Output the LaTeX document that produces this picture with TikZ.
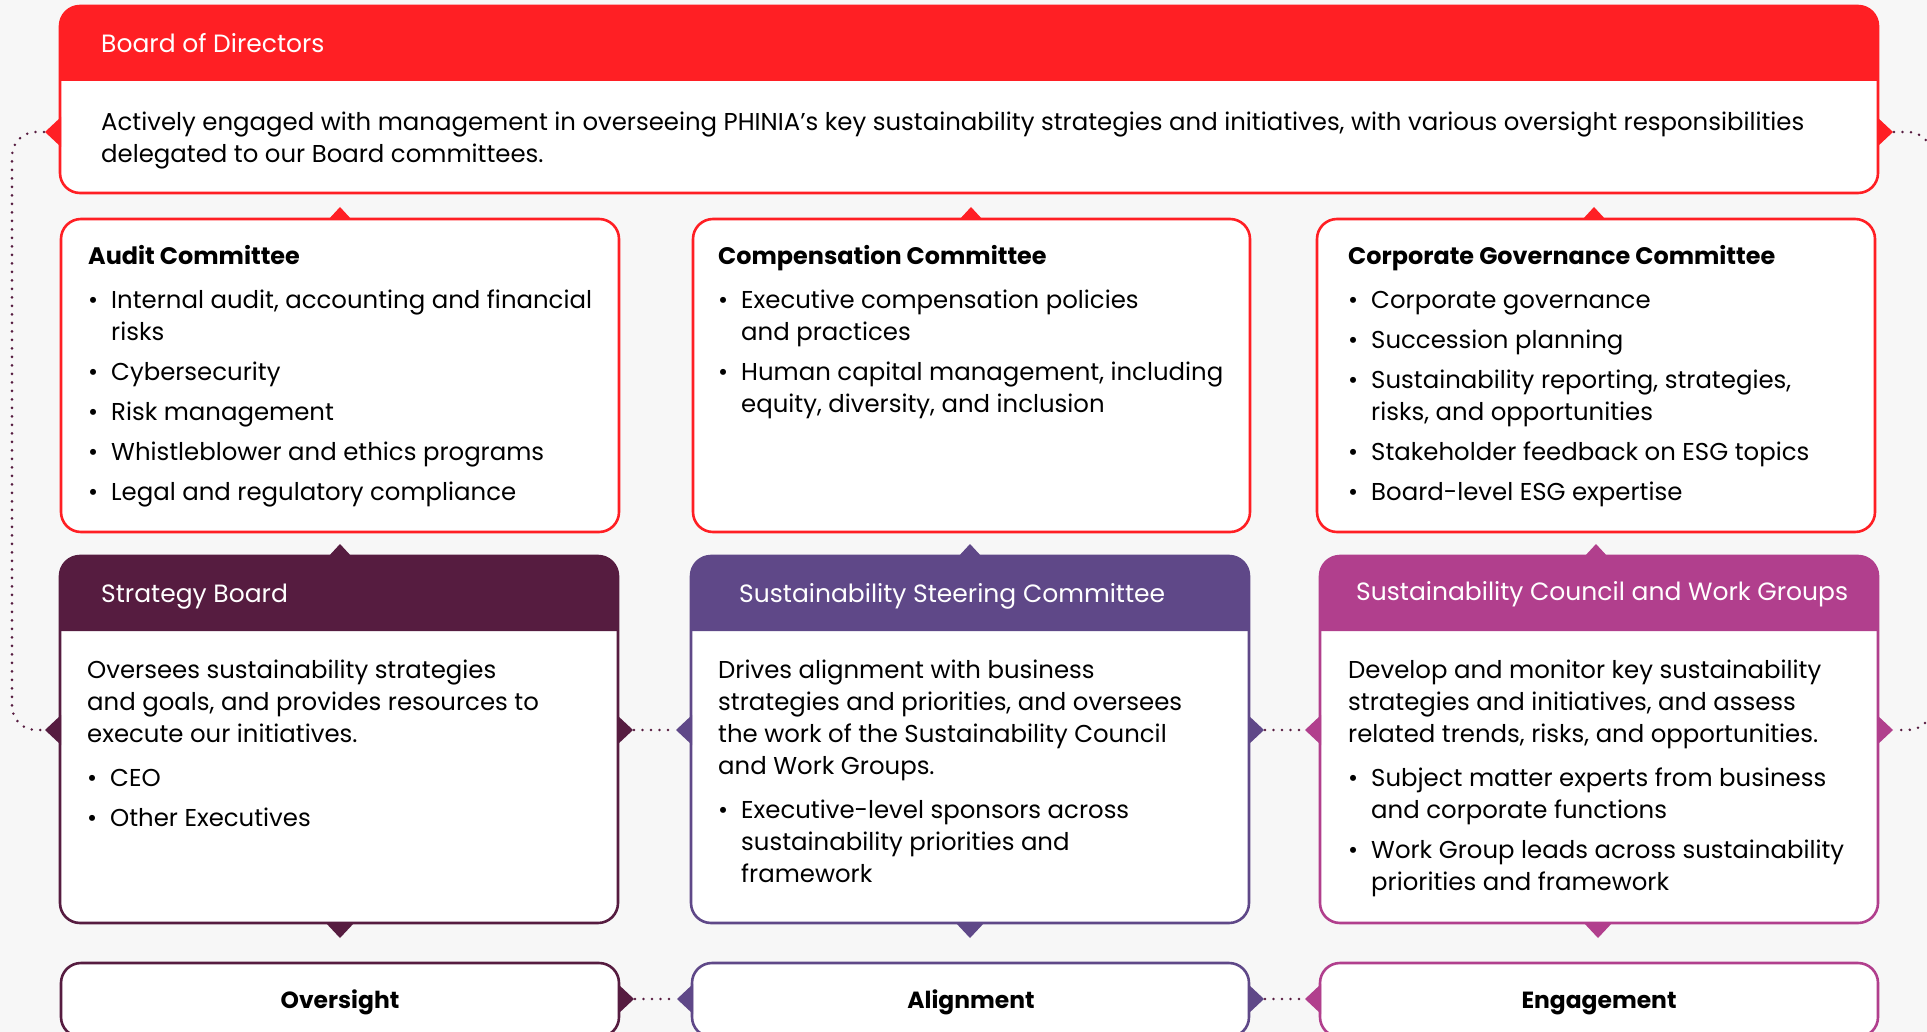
\documentclass[tikz,border=0pt]{standalone}
\usepackage{fontspec}
\setmainfont{Poppins}
\definecolor{paper}{HTML}{F7F7F7}
\definecolor{bdred}{HTML}{FF1F24}
\definecolor{plum}{HTML}{561C40}
\definecolor{violet}{HTML}{5F4888}
\definecolor{orchid}{HTML}{B13F8D}

\newcommand\bul{\makebox[23pt][l]{\textbullet}}
\newcommand\ind{\hspace*{23pt}}

% side / top / bottom pointers sitting on a box edge
\newcommand\ptrR[3]{\fill[#3] (#1-1,#2-15) -- (#1+15,#2) -- (#1-1,#2+15) -- cycle;}
\newcommand\ptrL[3]{\fill[#3] (#1+1,#2-15) -- (#1-15,#2) -- (#1+1,#2+15) -- cycle;}
\newcommand\ptrU[3]{\fill[#3] (#1-12,#2+1) -- (#1,#2-12) -- (#1+12,#2+1) -- cycle;}
\newcommand\ptrD[3]{\fill[#3] (#1-15,#2-1) -- (#1,#2+15) -- (#1+15,#2-1) -- cycle;}
% coloured header band with rounded top corners
\newcommand\band[5]{\fill[#5] (#1,#4) [rounded corners=20pt] -- (#1,#2) -- (#3,#2) [sharp corners] -- (#3,#4) -- cycle;}

\tikzset{
  x=1pt, y=-1pt,
  panel/.style={draw=#1, fill=white, line width=2.6pt, rounded corners=20pt,
    anchor=north west, inner sep=0pt, outer sep=0pt},
  body/.style={anchor=north west, inner sep=0pt, align=left,
    font=\fontsize{24.4}{32}\selectfont},
  title/.style={anchor=base west, inner sep=0pt, font=\bfseries\fontsize{23.9}{32}\selectfont},
  headtxt/.style={anchor=base west, inner sep=0pt, text=white, font=\fontsize{25}{32}\selectfont},
  foot/.style={anchor=base, inner sep=0pt, font=\bfseries\fontsize{23.4}{32}\selectfont},
  dotline/.style={draw=plum, line width=2.8pt, line cap=round, dash pattern=on 0pt off 8.5pt},
}

\begin{document}
\begin{tikzpicture}
\fill[paper] (0,0) rectangle (1927,1032);
\useasboundingbox (0,0) rectangle (1927,1032);
\clip (0,0) rectangle (1927,1032);

% ---------- Board of Directors ----------
\node[panel=bdred, minimum width=1818pt, minimum height=187pt] (board) at (60,6) {};
\band{60}{6}{1878}{81}{bdred}
\node[headtxt] (boardT) at (101,53) {Board of Directors};
\node[body] (boardB) at (101,107.6) {\strut Actively engaged with management in overseeing PHINIA’s key sustainability strategies and initiatives, with various oversight responsibilities\\delegated to our Board committees.};
\ptrL{60}{132}{bdred}
\ptrR{1878}{132}{bdred}
\coordinate (bdL) at (44,132);
\coordinate (bdR) at (1894,132);

% ---------- Committees ----------
\node[panel=bdred, minimum width=558pt, minimum height=313pt] (audit) at (61,219) {};
\node[panel=bdred, minimum width=557pt, minimum height=313pt] (comp) at (693,219) {};
\node[panel=bdred, minimum width=558pt, minimum height=313pt] (gov) at (1317,219) {};
\ptrU{340}{219}{bdred}
\ptrU{971}{219}{bdred}
\ptrU{1594}{219}{bdred}

\node[title] (auditT) at (88,265) {Audit Committee};
\node[body] (auditB) at (88,285.6) {\strut\bul Internal audit, accounting and financial\\\ind risks\\[8pt]\bul Cybersecurity\\[8pt]\bul Risk management\\[8pt]\bul Whistleblower and ethics programs\\[8pt]\bul Legal and regulatory compliance};

\node[title] (compT) at (718,265) {Compensation Committee};
\node[body] (compB) at (718,285.6) {\strut\bul Executive compensation policies\\\ind and practices\\[8pt]\bul Human capital management, including\\\ind equity, diversity, and inclusion};

\node[title] (govT) at (1348,265) {Corporate Governance Committee};
\node[body] (govB) at (1348,285.6) {\strut\bul Corporate governance\\[8pt]\bul Succession planning\\[8pt]\bul Sustainability reporting, strategies,\\\ind risks, and opportunities\\[8pt]\bul Stakeholder feedback on ESG topics\\[8pt]\bul Board-level ESG expertise};

% ---------- Management bodies ----------
\node[panel=plum, minimum width=558pt, minimum height=367pt] (strat) at (60,556) {};
\band{60}{556}{618}{631}{plum}
\node[panel=violet, minimum width=558pt, minimum height=367pt] (ssc) at (691,556) {};
\band{691}{556}{1249}{631}{violet}
\node[panel=orchid, minimum width=558pt, minimum height=367pt] (council) at (1320,556) {};
\band{1320}{556}{1878}{631}{orchid}

\ptrU{340}{556}{plum}
\ptrU{970}{556}{violet}
\ptrU{1596}{556}{orchid}
\ptrD{340}{923}{plum}
\ptrD{970}{923}{violet}
\ptrD{1598}{923}{orchid}

\node[headtxt] (stratT) at (101,602) {Strategy Board};
\node[body] (stratB) at (87,655.6) {\strut Oversees sustainability strategies\\and goals, and provides resources to\\execute our initiatives.\\[12pt]\bul CEO\\[8pt]\bul Other Executives};

\node[headtxt] (sscT) at (739,602) {Sustainability Steering Committee};
\node[body] (sscB) at (718,655.6) {\strut Drives alignment with business\\strategies and priorities, and oversees\\the work of the Sustainability Council\\and Work Groups.\\[12pt]\bul Executive-level sponsors across\\\ind sustainability priorities and\\\ind framework};

\node[headtxt] (councilT) at (1356,600) {Sustainability Council and Work Groups};
\node[body] (councilB) at (1348,655.6) {\strut Develop and monitor key sustainability\\strategies and initiatives, and assess\\related trends, risks, and opportunities.\\[12pt]\bul Subject matter experts from business\\\ind and corporate functions\\[8pt]\bul Work Group leads across sustainability\\\ind priorities and framework};

\ptrL{60}{730}{plum}
\ptrR{618}{730}{plum}
\ptrL{691}{730}{violet}
\ptrR{1249}{730}{violet}
\ptrL{1320}{730}{orchid}
\ptrR{1878}{730}{orchid}
\coordinate (stL) at (44,730);
\coordinate (stR) at (634,730);
\coordinate (scL) at (675,730);
\coordinate (scR) at (1265,730);
\coordinate (coL) at (1304,730);
\coordinate (coR) at (1894,730);

% ---------- Outcomes ----------
\node[panel=plum, minimum width=558pt, minimum height=74pt] (over) at (61,963) {};
\node[panel=violet, minimum width=557pt, minimum height=74pt] (align) at (692,963) {};
\node[panel=orchid, minimum width=558pt, minimum height=74pt] (engage) at (1320,963) {};
\node[foot] (overT) at (340,1008) {Oversight};
\node[foot] (alignT) at (971,1008) {Alignment};
\node[foot] (engageT) at (1599,1008) {Engagement};

\ptrR{619}{999}{plum}
\ptrL{692}{999}{violet}
\ptrR{1249}{999}{violet}
\ptrL{1320}{999}{orchid}
\coordinate (ovR) at (635,999);
\coordinate (alL) at (676,999);
\coordinate (alR) at (1265,999);
\coordinate (enL) at (1304,999);

% ---------- dotted links ----------
\coordinate (railL) at (12,0);
\coordinate (railR) at (1932,0);
\draw[dotline, rounded corners=24pt] (bdL) -| (railL |- stL) -- (stL);
\draw[dotline, rounded corners=24pt] (bdR) -| (railR |- coR) -- (coR);
\draw[dotline] (stR) -- (scL);
\draw[dotline] (scR) -- (coL);
\draw[dotline] (ovR) -- (alL);
\draw[dotline] (alR) -- (enL);
\end{tikzpicture}
\end{document}
